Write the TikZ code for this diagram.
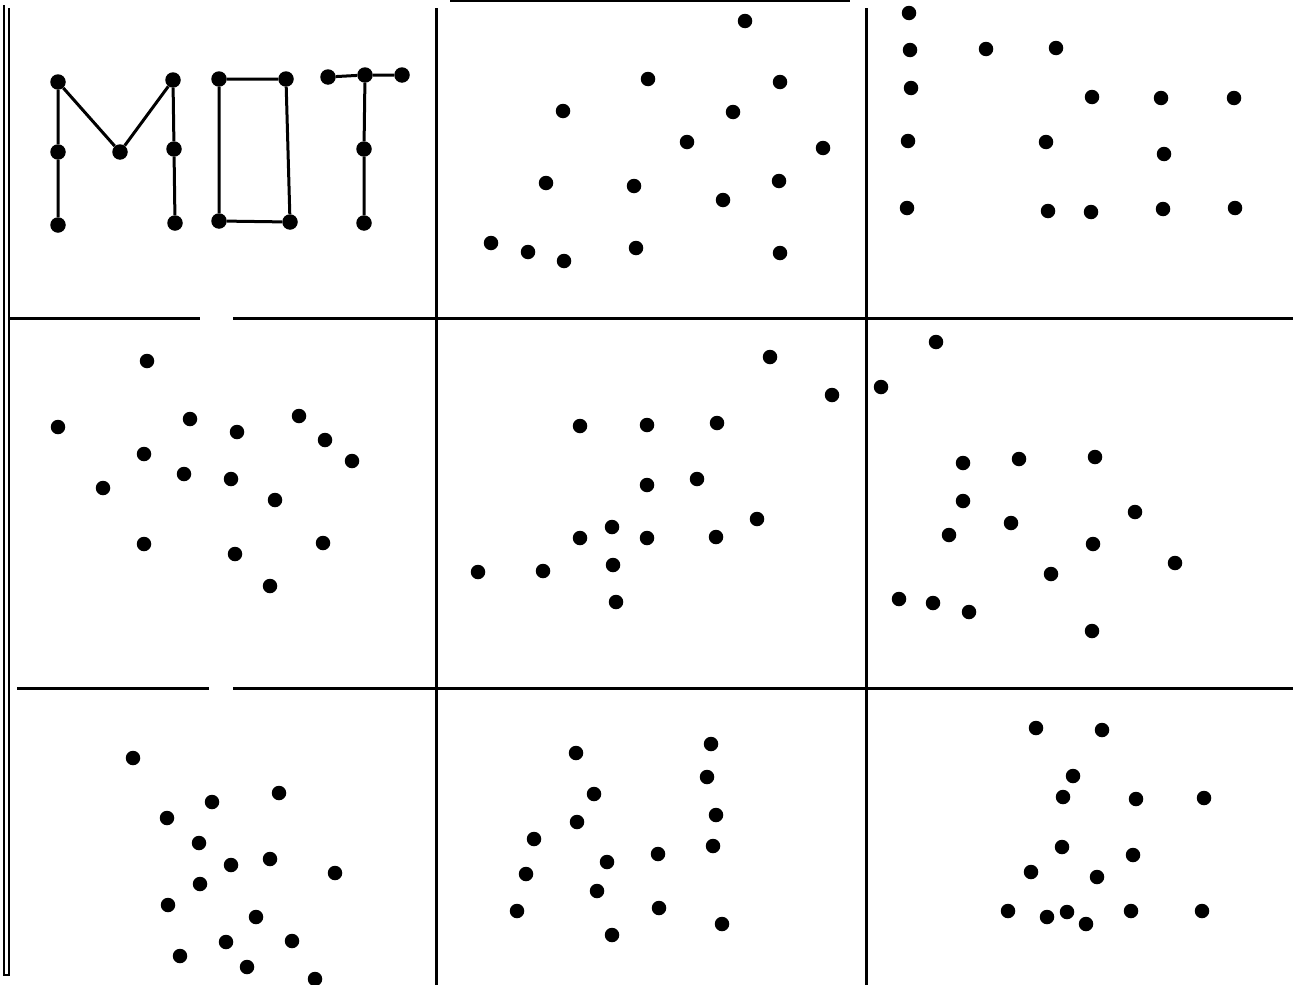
\documentclass[tikz,border=0pt]{standalone}
\begin{document}
\begin{tikzpicture}[x=1pt,y=-1pt,
  dot/.style={circle,fill=black,inner sep=0pt,minimum size=14.5pt},
  bigdot/.style={circle,fill=black,inner sep=0pt,minimum size=15.5pt},
  gridline/.style={line width=3pt,black},
  letter/.style={line width=3pt,black}]
\useasboundingbox[fill=white] (0,0) rectangle (1293,985);
% grid
\draw[gridline] (436,8) -- (436,985);
\draw[gridline] (866,8) -- (866,985);
\draw[gridline] (10,318) -- (200,318);
\draw[gridline] (233,318) -- (1293,318);
\draw[gridline] (17,688) -- (209,688);
\draw[gridline] (233,688) -- (1293,688);
\draw[line width=2.4pt] (4,5) -- (4,975) -- (10,975);
\draw[line width=2.4pt] (9,8) -- (9,975);
\draw[line width=2.4pt] (450,1) -- (850,1);
% MOT
\node[bigdot] (m1) at (58,82) {};
\node[bigdot] (m2) at (58,152) {};
\node[bigdot] (m3) at (58,225) {};
\node[bigdot] (m4) at (120,152) {};
\node[bigdot] (m5) at (173,80) {};
\node[bigdot] (m6) at (174,149) {};
\node[bigdot] (m7) at (175,223) {};
\draw[letter] (m3) -- (m2) -- (m1) -- (m4) -- (m5) -- (m6) -- (m7);
\node[bigdot] (o1) at (219,79) {};
\node[bigdot] (o2) at (286,79) {};
\node[bigdot] (o3) at (219,221) {};
\node[bigdot] (o4) at (290,222) {};
\draw[letter] (o1) -- (o2) -- (o4) -- (o3) -- (o1);
\node[bigdot] (t1) at (328,77) {};
\node[bigdot] (t2) at (365,75) {};
\node[bigdot] (t3) at (402,75) {};
\node[bigdot] (t4) at (364,149) {};
\node[bigdot] (t5) at (364,223) {};
\draw[letter] (t1) -- (t2) -- (t3);
\draw[letter] (t2) -- (t4) -- (t5);
% panel 2
\foreach \p [count=\i] in {(745,21),(648,79),(780,82),(563,111),(733,112),(687,142),(823,148),(546,183),(634,186),(779,181),(723,200),(491,243),(528,252),(564,261),(636,248),(780,253)}
  \node[dot] (b\i) at \p {};
% panel 3
\foreach \p [count=\i] in {(909,13),(910,50),(911,88),(908,141),(907,208),(986,49),(1056,48),(1092,97),(1161,98),(1234,98),(1046,142),(1164,154),(1048,211),(1091,212),(1163,209),(1235,208)}
  \node[dot] (c\i) at \p {};
% panel 4
\foreach \p [count=\i] in {(147,361),(58,427),(190,419),(237,432),(299,416),(325,440),(352,461),(144,454),(184,474),(231,479),(103,488),(275,500),(144,544),(235,554),(323,543),(270,586)}
  \node[dot] (d\i) at \p {};
% panel 5
\foreach \p [count=\i] in {(770,357),(832,395),(580,426),(647,425),(717,423),(647,485),(697,479),(757,519),(612,527),(580,538),(647,538),(716,537),(478,572),(543,571),(613,565),(616,602)}
  \node[dot] (e\i) at \p {};
% panel 6
\foreach \p [count=\i] in {(936,342),(881,387),(963,463),(1019,459),(1095,457),(963,501),(1011,523),(949,535),(1135,512),(1093,544),(1175,563),(1051,574),(899,599),(933,603),(969,612),(1092,631)}
  \node[dot] (f\i) at \p {};
% panel 7
\foreach \p [count=\i] in {(133,758),(212,802),(279,793),(167,818),(199,843),(231,865),(270,859),(335,873),(200,884),(168,905),(256,917),(226,942),(292,941),(180,956),(247,967),(315,979)}
  \node[dot] (g\i) at \p {};
% panel 8
\foreach \p [count=\i] in {(576,753),(711,744),(707,777),(594,794),(716,815),(577,822),(534,839),(713,846),(607,862),(658,854),(526,874),(597,891),(517,911),(659,908),(722,924),(612,935)}
  \node[dot] (h\i) at \p {};
% panel 9
\foreach \p [count=\i] in {(1036,728),(1102,730),(1073,776),(1063,797),(1136,799),(1204,798),(1062,847),(1133,855),(1031,872),(1097,877),(1008,911),(1047,917),(1067,912),(1086,924),(1131,911),(1202,911)}
  \node[dot] (k\i) at \p {};
\end{tikzpicture}
\end{document}
